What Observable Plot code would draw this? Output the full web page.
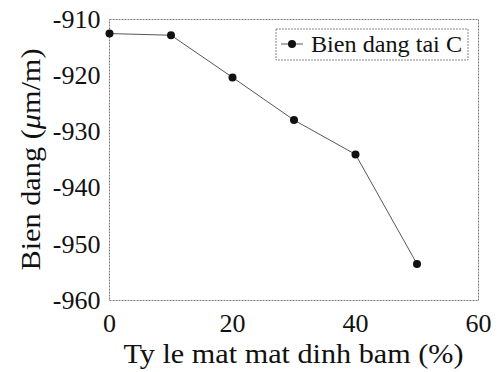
<!DOCTYPE html>
<html>
<head>
<meta charset="utf-8">
<script src="https://cdn.jsdelivr.net/npm/d3@7"></script>
<script src="https://cdn.jsdelivr.net/npm/@observablehq/plot@0.6"></script>
<style>
  html, body { margin: 0; padding: 0; background: white; }
  svg text { font-family: 'Liberation Serif', 'Times New Roman', serif; }
</style>
</head>
<body>
<div id="chart"></div>
<script>
const lossPercent = [0, 10, 20, 30, 40, 50];
const strainC = [-912.5, -912.8, -920.3, -927.9, -934.0, -953.5];
const xTickValues = [0, 20, 40, 60];
const yTickValues = [-960, -950, -940, -930, -920, -910];
const seriesName = "Bien dang tai C";
const xLabel = "Ty le mat mat dinh bam (%)";
const yLabelParts = ["Bien dang (", "\u03BC", "m/m)"];

const data = lossPercent.map((x, i) => ({x, y: strainC[i]}));

const W = 504, H = 372;
const mL = 109, mR = 26, mT = 19, mB = 72;

const chart = Plot.plot({
  width: W,
  height: H,
  marginLeft: mL,
  marginRight: mR,
  marginTop: mT,
  marginBottom: mB,
  style: {fontFamily: "'Liberation Serif', 'Times New Roman', serif", fontSize: "26px", color: "#111", background: "white", overflow: "visible"},
  x: {domain: [0, 60]},
  y: {domain: [-960, -910]},
  marks: [
    Plot.frame({stroke: "#777", strokeWidth: 1, strokeDasharray: "2,1"}),
    Plot.axisX({ticks: xTickValues, tickSize: 0, tickPadding: 13, label: null, fontSize: 26, tickFormat: d => String(d)}),
    Plot.axisY({ticks: yTickValues, tickSize: 0, tickPadding: 9, label: null, fontSize: 26, tickFormat: d => String(d)}),
    Plot.line(data, {x: "x", y: "y", stroke: "#444", strokeWidth: 0.9}),
    Plot.dot(data, {x: "x", y: "y", r: 4, fill: "#111", stroke: "none"})
  ]
});

document.getElementById("chart").appendChild(chart);

const svg = d3.select(chart);
const font = "'Liberation Serif', 'Times New Roman', serif";

svg.selectAll("g[aria-label$='tick label'] text").style("font-size", "26px");

// x axis label
svg.append("text")
  .attr("x", mL + (W - mL - mR) / 2)
  .attr("y", 363)
  .attr("text-anchor", "middle")
  .attr("font-family", font)
  .style("font-size", "28px")
  .attr("fill", "#111")
  .attr("textLength", 340)
  .attr("lengthAdjust", "spacingAndGlyphs")
  .text(xLabel);

// y axis label
const yl = svg.append("text")
  .attr("transform", `translate(40, ${mT + (H - mT - mB) / 2}) rotate(-90)`)
  .attr("text-anchor", "middle")
  .attr("font-family", font)
  .style("font-size", "28px")
  .attr("fill", "#111")
  .attr("textLength", 222)
  .attr("lengthAdjust", "spacingAndGlyphs");
yl.append("tspan").text(yLabelParts[0]);
yl.append("tspan").attr("font-style", "italic").text(yLabelParts[1]);
yl.append("tspan").text(yLabelParts[2]);

// legend
const lg = svg.append("g").attr("text-anchor", "start");
lg.append("rect")
  .attr("x", 276).attr("y", 29).attr("width", 192).attr("height", 31)
  .attr("fill", "white").attr("stroke", "#888").attr("stroke-width", 1).attr("stroke-dasharray", "2,1");
lg.append("line")
  .attr("x1", 281).attr("x2", 303).attr("y1", 44).attr("y2", 44)
  .attr("stroke", "#444").attr("stroke-width", 0.9);
lg.append("circle")
  .attr("cx", 292).attr("cy", 44).attr("r", 4).attr("fill", "#111");
lg.append("text")
  .attr("x", 311).attr("y", 52)
  .attr("text-anchor", "start")
  .attr("font-family", font).style("font-size", "24px").attr("fill", "#111")
  .attr("textLength", 151)
  .attr("lengthAdjust", "spacingAndGlyphs")
  .text(seriesName);
</script>
</body>
</html>
